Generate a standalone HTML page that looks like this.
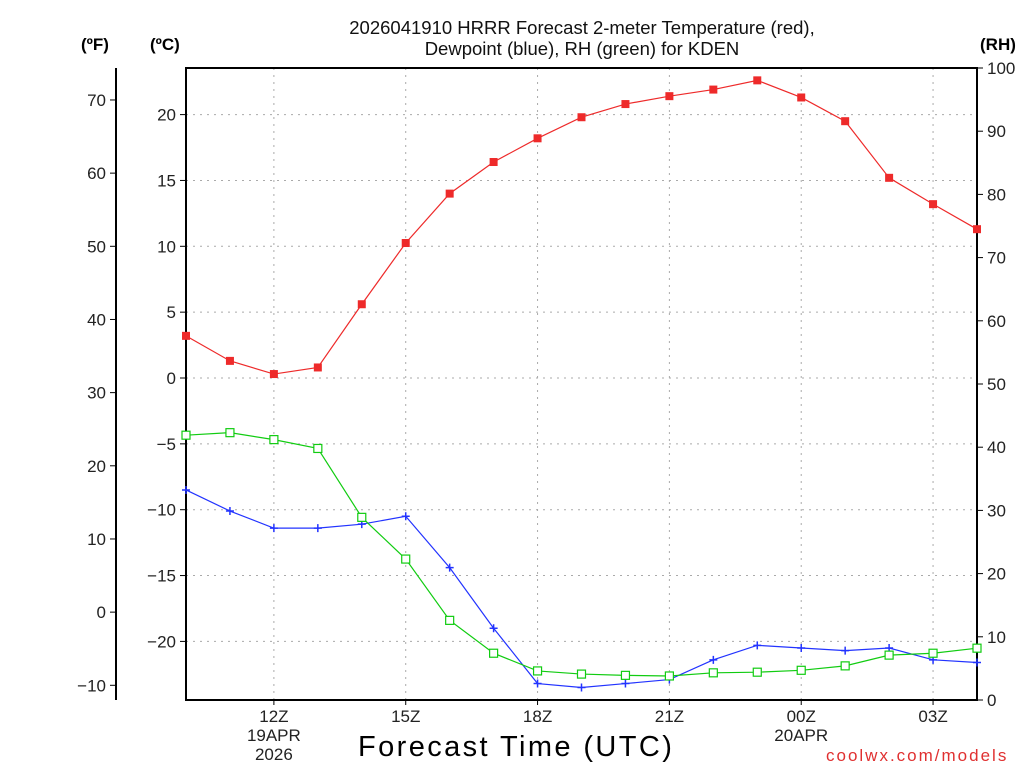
<!DOCTYPE html>
<html><head><meta charset="utf-8"><style>
html,body{margin:0;padding:0;background:#fff;}
svg{display:block;font-family:"Liberation Sans",sans-serif;}
</style></head><body>
<svg id="chart" width="1024" height="768" xmlns="http://www.w3.org/2000/svg"></svg>
<script>
const hours = [10,11,12,13,14,15,16,17,18,19,20,21,22,23,24,25,26,27,28];
const tempC = [3.2,1.3,0.3,0.8,5.6,10.25,14.0,16.4,18.2,19.8,20.8,21.4,21.9,22.6,21.3,19.5,15.2,13.2,11.3];
const dewC = [-8.5,-10.1,-11.4,-11.4,-11.1,-10.5,-14.4,-19.0,-23.2,-23.5,-23.2,-22.9,-21.4,-20.3,-20.5,-20.7,-20.5,-21.4,-21.6];
const rh = [41.9,42.3,41.2,39.8,28.9,22.3,12.6,7.4,4.6,4.1,3.9,3.8,4.3,4.4,4.7,5.4,7.1,7.4,8.2];
const cTicks = [20,15,10,5,0,-5,-10,-15,-20];
const fTicks = [70,60,50,40,30,20,10,0,-10];
const rhTicks = [100,90,80,70,60,50,40,30,20,10,0];
const xTickHours = [12,15,18,21,24,27];
const xTickLabels = [["12Z","19APR","2026"],["15Z"],["18Z"],["21Z"],["00Z","20APR"],["03Z"]];

const L=186,R=977,T=68,B=700;
const xS=h=>L+(h-10)*(R-L)/18;
const yC=c=>378-c*13.17;
const yF=f=>yC((f-32)*5/9);
const yRH=r=>B-r*(B-T)/100;
const svg=document.getElementById('chart');
const NS='http://www.w3.org/2000/svg';
function el(tag,attrs,text){const e=document.createElementNS(NS,tag);for(const k in attrs)e.setAttribute(k,attrs[k]);if(text!==undefined)e.textContent=text;svg.appendChild(e);return e;}

cTicks.forEach(c=>{const g=el('line',{x1:L,x2:R,y1:yC(c),y2:yC(c),stroke:'#aaa','stroke-dasharray':'2,5'});

});
xTickHours.forEach(h=>{const g=el('line',{x1:xS(h),x2:xS(h),y1:T,y2:B,stroke:'#aaa','stroke-dasharray':'2,5'});

});

const fr=el('rect',{x:L,y:T,width:R-L,height:B-T,fill:'none',stroke:'#000','stroke-width':2});


const fa=el('line',{x1:116,x2:116,y1:T,y2:B,stroke:'#000','stroke-width':2});



cTicks.forEach(c=>{el('line',{x1:180,x2:L,y1:yC(c),y2:yC(c),stroke:'#000'});
const t=el('text',{x:176,y:yC(c)+6,'text-anchor':'end','font-size':17,fill:'#222'},c<0?'\u2212'+(-c):String(c));

});
fTicks.forEach(f=>{el('line',{x1:110,x2:116,y1:yF(f),y2:yF(f),stroke:'#000'});
const t=el('text',{x:106,y:yF(f)+6,'text-anchor':'end','font-size':17,fill:'#222'},f<0?'\u2212'+(-f):String(f));

});
rhTicks.forEach(r=>{el('line',{x1:R,x2:983,y1:yRH(r),y2:yRH(r),stroke:'#000'});
const t=el('text',{x:987,y:yRH(r)+6,'font-size':17,fill:'#222'},String(r));

});
xTickHours.forEach((h,i)=>{el('line',{x1:xS(h),x2:xS(h),y1:B,y2:B+5,stroke:'#000'});
xTickLabels[i].forEach((s,j)=>{const t=el('text',{x:xS(h),y:B+22+j*19,'text-anchor':'middle','font-size':17,fill:'#222'},s);

});});

function series(vals,yf,color,name,marker){
 const pts=vals.map((v,i)=>[xS(hours[i]),yf(v)]);
 const p=el('polyline',{points:pts.map(p=>p.join(',')).join(' '),fill:'none',stroke:color,'stroke-width':1.2});
 
 
 pts.forEach(([x,y])=>{let m;
  if(marker==='sq') m=el('rect',{x:x-4,y:y-4,width:8,height:8,fill:color});
  else if(marker==='osq') m=el('rect',{x:x-4,y:y-4,width:8,height:8,fill:'#fff',stroke:color,'stroke-width':1.2});
  else m=el('path',{d:`M${x-4},${y}H${x+4}M${x},${y-4}V${y+4}`,stroke:color,'stroke-width':1.5});
  
  });
}
series(tempC,yC,'#ee2a2a','temperature','sq');
series(dewC,yC,'#2233ff','dewpoint','plus');
series(rh,yRH,'#11cc11','rh','osq');
</script>
<div style="position:absolute;left:0;top:0;width:1024px;height:768px;pointer-events:none;font-family:'Liberation Sans',sans-serif;">
<div style="position:absolute;left:0;width:1164px;top:17px;text-align:center;font-size:18.5px;line-height:21px;color:#111;">2026041910 HRRR Forecast 2-meter Temperature (red),<br>Dewpoint (blue), RH (green) for KDEN</div>
<div style="position:absolute;left:81px;top:35px;font-size:17px;font-weight:bold;">(ºF)</div>
<div style="position:absolute;left:150px;top:35px;font-size:17px;font-weight:bold;">(ºC)</div>
<div style="position:absolute;left:980px;top:35px;font-size:17px;font-weight:bold;">(RH)</div>
<div style="position:absolute;left:358px;top:731px;font-size:29px;letter-spacing:2.4px;color:#000;">Forecast Time (UTC)</div>
<div style="position:absolute;left:826px;top:746px;font-size:17px;color:#e03030;letter-spacing:2px;">coolwx.com/models</div>
</div>
</body></html>
